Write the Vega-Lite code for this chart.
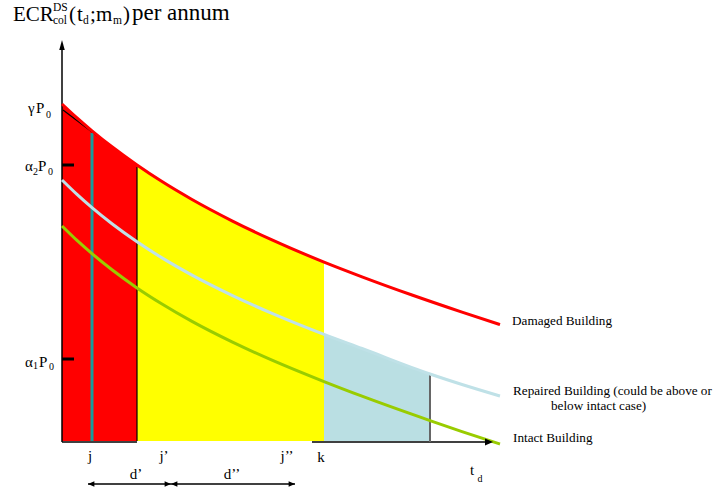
{
  "$schema": "https://vega.github.io/schema/vega-lite/v6.json",
  "width": 717,
  "height": 494,
  "autosize": {"type": "fit", "contains": "padding"},
  "padding": 0,
  "background": "white",
  "config": {"view": {"stroke": null}, "text": {"font": "Liberation Serif", "color": "black"}},
  "datasets": {
    "curves": [
      {"series": "damaged", "t": 0, "v": 337}, {"series": "damaged", "t": 15, "v": 323.1}, {"series": "damaged", "t": 30, "v": 310.2},
      {"series": "damaged", "t": 50, "v": 294.2}, {"series": "damaged", "t": 75, "v": 276}, {"series": "damaged", "t": 100, "v": 259.4},
      {"series": "damaged", "t": 130, "v": 241.5}, {"series": "damaged", "t": 170, "v": 220.2}, {"series": "damaged", "t": 210, "v": 201.1},
      {"series": "damaged", "t": 262, "v": 178.9}, {"series": "damaged", "t": 300, "v": 164.2}, {"series": "damaged", "t": 350, "v": 146},
      {"series": "damaged", "t": 400, "v": 128.9}, {"series": "damaged", "t": 438, "v": 116.4},
      {"series": "repaired", "t": 0, "v": 261}, {"series": "repaired", "t": 15, "v": 246.6}, {"series": "repaired", "t": 30, "v": 233.3},
      {"series": "repaired", "t": 50, "v": 217.2}, {"series": "repaired", "t": 75, "v": 199.2}, {"series": "repaired", "t": 100, "v": 183.1},
      {"series": "repaired", "t": 130, "v": 165.9}, {"series": "repaired", "t": 170, "v": 145.7}, {"series": "repaired", "t": 210, "v": 127.6},
      {"series": "repaired", "t": 262, "v": 106.6}, {"series": "repaired", "t": 300, "v": 92.5}, {"series": "repaired", "t": 368, "v": 67},
      {"series": "repaired", "t": 400, "v": 56.5}, {"series": "repaired", "t": 438, "v": 45},
      {"series": "intact", "t": 0, "v": 215}, {"series": "intact", "t": 15, "v": 200.6}, {"series": "intact", "t": 30, "v": 187.4},
      {"series": "intact", "t": 50, "v": 171.2}, {"series": "intact", "t": 75, "v": 153.1}, {"series": "intact", "t": 100, "v": 137},
      {"series": "intact", "t": 130, "v": 119.6}, {"series": "intact", "t": 170, "v": 99.1}, {"series": "intact", "t": 210, "v": 80.8},
      {"series": "intact", "t": 262, "v": 59.4}, {"series": "intact", "t": 300, "v": 44.8}, {"series": "intact", "t": 368, "v": 20.4},
      {"series": "intact", "t": 400, "v": 9.4}, {"series": "intact", "t": 438, "v": -3}
    ],
    "bands": [
      {"band": "j", "t": 0, "v": 337}, {"band": "j", "t": 15, "v": 323.1}, {"band": "j", "t": 30, "v": 310.2},
      {"band": "j", "t": 50, "v": 294.2}, {"band": "j", "t": 75, "v": 276},
      {"band": "d", "t": 75, "v": 276}, {"band": "d", "t": 100, "v": 259.4}, {"band": "d", "t": 130, "v": 241.5},
      {"band": "d", "t": 170, "v": 220.2}, {"band": "d", "t": 210, "v": 201.1}, {"band": "d", "t": 262, "v": 178},
      {"band": "k", "t": 262, "v": 106.6}, {"band": "k", "t": 300, "v": 92.5}, {"band": "k", "t": 368, "v": 67}
    ],
    "segments": [
      {"part": "axis", "t": 0, "v": -1, "t2": 0, "v2": 396},
      {"part": "axis", "t": 0, "v": -1, "t2": 75, "v2": -1},
      {"part": "axis", "t": 250, "v": -1, "t2": 428, "v2": -1},
      {"part": "axis", "t": 26, "v": -43, "t2": 109, "v2": -43},
      {"part": "axis", "t": 109, "v": -43, "t2": 233, "v2": -43},
      {"part": "edge", "t": 75, "v": 0, "t2": 75, "v2": 274},
      {"part": "edge", "t": 1, "v": 331, "t2": 44, "v2": 298.5},
      {"part": "tick", "t": 0, "v": 276, "t2": 12, "v2": 276},
      {"part": "tick", "t": 0, "v": 82, "t2": 12, "v2": 82},
      {"part": "marker", "t": 30, "v": 0, "t2": 30, "v2": 308},
      {"part": "limit", "t": 368, "v": -1, "t2": 368, "v2": 67}
    ],
    "heads": [
      {"kind": "axis", "dir": "up", "t": 0, "v": 396},
      {"kind": "axis", "dir": "right", "t": 427, "v": -1},
      {"kind": "span", "dir": "left", "t": 29.2, "v": -43},
      {"kind": "span", "dir": "right", "t": 105.8, "v": -43},
      {"kind": "span", "dir": "left", "t": 112.2, "v": -43},
      {"kind": "span", "dir": "right", "t": 229.8, "v": -43}
    ],
    "labels": [
      {"role": "title", "text": "ECR", "t": -49, "v": 420},
      {"role": "title", "text": "(", "t": 7, "v": 420},
      {"role": "title", "text": "t", "t": 15, "v": 420},
      {"role": "title", "text": ";", "t": 28, "v": 420},
      {"role": "title", "text": "m", "t": 34, "v": 420},
      {"role": "title", "text": ")", "t": 61, "v": 420},
      {"role": "unit", "text": "per annum", "t": 70, "v": 421},
      {"role": "titlesub", "text": "DS", "t": -9, "v": 430},
      {"role": "titlesub", "text": "col", "t": -9, "v": 417},
      {"role": "titlesub", "text": "d", "t": 21, "v": 417},
      {"role": "titlesub", "text": "m", "t": 51, "v": 417},
      {"role": "level", "text": "γ", "t": -34, "v": 328},
      {"role": "level", "text": "P", "t": -26, "v": 328},
      {"role": "level", "text": "α", "t": -37, "v": 270},
      {"role": "level", "text": "P", "t": -24, "v": 270},
      {"role": "level", "text": "α", "t": -37, "v": 74},
      {"role": "level", "text": "P", "t": -23, "v": 74},
      {"role": "levelsub", "text": "0", "t": -16, "v": 323},
      {"role": "levelsub", "text": "2", "t": -29, "v": 266},
      {"role": "levelsub", "text": "0", "t": -14, "v": 266},
      {"role": "levelsub", "text": "1", "t": -29, "v": 72},
      {"role": "levelsub", "text": "0", "t": -13, "v": 71},
      {"role": "time", "text": "j", "t": 28, "v": -20},
      {"role": "time", "text": "j’", "t": 102, "v": -20},
      {"role": "time", "text": "j’’", "t": 225, "v": -20},
      {"role": "time", "text": "k", "t": 259, "v": -21},
      {"role": "time", "text": "d’", "t": 74, "v": -38},
      {"role": "time", "text": "d’’", "t": 170, "v": -38},
      {"role": "time", "text": "t", "t": 410, "v": -34},
      {"role": "timesub", "text": "d", "t": 418, "v": -41},
      {"role": "note", "text": "Damaged Building", "t": 450, "v": 116},
      {"role": "note", "text": "Repaired Building (could be above or", "t": 451, "v": 46},
      {"role": "note", "text": "below intact case)", "t": 489, "v": 31},
      {"role": "note", "text": "Intact Building", "t": 451, "v": -1}
    ]
  },
  "encoding": {
    "x": {"field": "t", "type": "quantitative", "scale": {"domain": [-62, 655], "nice": false, "zero": false}, "axis": null},
    "y": {"field": "v", "type": "quantitative", "stack": null, "scale": {"domain": [-53, 441], "nice": false, "zero": false}, "axis": null}
  },
  "resolve": {"scale": {"color": "independent"}},
  "layer": [
    {
      "data": {"name": "bands"},
      "mark": {"type": "area", "interpolate": "monotone", "opacity": 1},
      "encoding": {
        "y2": {"datum": 0},
        "color": {"field": "band", "type": "nominal", "scale": {"domain": ["j", "d", "k"], "range": ["#ff0000", "#ffff00", "#badfe3"]}, "legend": null}
      }
    },
    {
      "data": {"name": "segments"},
      "transform": [{"filter": "datum.part === 'axis'"}],
      "mark": {"type": "rule", "color": "black", "strokeWidth": 1.5},
      "encoding": {"x2": {"field": "t2"}, "y2": {"field": "v2"}}
    },
    {
      "data": {"name": "segments"},
      "transform": [{"filter": "datum.part === 'edge'"}],
      "mark": {"type": "rule", "color": "black", "strokeWidth": 1.2},
      "encoding": {"x2": {"field": "t2"}, "y2": {"field": "v2"}}
    },
    {
      "data": {"name": "segments"},
      "transform": [{"filter": "datum.part === 'tick'"}],
      "mark": {"type": "rule", "color": "black", "strokeWidth": 3},
      "encoding": {"x2": {"field": "t2"}, "y2": {"field": "v2"}}
    },
    {
      "data": {"name": "segments"},
      "transform": [{"filter": "datum.part === 'marker'"}],
      "mark": {"type": "rule", "color": "#169c9c", "strokeWidth": 3},
      "encoding": {"x2": {"field": "t2"}, "y2": {"field": "v2"}}
    },
    {
      "data": {"name": "segments"},
      "transform": [{"filter": "datum.part === 'limit'"}],
      "mark": {"type": "rule", "color": "#666666", "strokeWidth": 2},
      "encoding": {"x2": {"field": "t2"}, "y2": {"field": "v2"}}
    },
    {
      "data": {"name": "curves"},
      "mark": {"type": "line", "interpolate": "monotone", "strokeWidth": 3, "strokeCap": "butt"},
      "encoding": {
        "color": {"field": "series", "type": "nominal", "scale": {"domain": ["damaged", "repaired", "intact"], "range": ["#ff0000", "#bfe1e7", "#99cc00"]}, "legend": null}
      }
    },
    {
      "data": {"name": "heads"},
      "transform": [{"filter": "datum.kind === 'axis'"}],
      "mark": {"type": "point", "filled": true, "color": "black", "opacity": 1, "size": 100, "strokeWidth": 0},
      "encoding": {
        "shape": {"field": "dir", "type": "nominal", "scale": {"domain": ["up", "right", "left"], "range": ["M0,-1L0.55,1L-0.55,1Z", "M0.8,0L-0.8,-0.7L-0.8,0.7Z", "M-0.8,0L0.8,-0.7L0.8,0.7Z"]}, "legend": null}
      }
    },
    {
      "data": {"name": "heads"},
      "transform": [{"filter": "datum.kind === 'span'"}],
      "mark": {"type": "point", "filled": true, "color": "black", "opacity": 1, "size": 64, "strokeWidth": 0},
      "encoding": {
        "shape": {"field": "dir", "type": "nominal", "legend": null}
      }
    },
    {
      "data": {"name": "labels"},
      "transform": [{"filter": "datum.role === 'title'"}],
      "mark": {"type": "text", "font": "Liberation Serif", "fontSize": 21, "align": "left", "baseline": "alphabetic"},
      "encoding": {"text": {"field": "text"}}
    },
    {
      "data": {"name": "labels"},
      "transform": [{"filter": "datum.role === 'unit'"}],
      "mark": {"type": "text", "font": "Liberation Serif", "fontSize": 23, "align": "left", "baseline": "alphabetic"},
      "encoding": {"text": {"field": "text"}}
    },
    {
      "data": {"name": "labels"},
      "transform": [{"filter": "datum.role === 'titlesub'"}],
      "mark": {"type": "text", "font": "Liberation Serif", "fontSize": 11.5, "align": "left", "baseline": "alphabetic"},
      "encoding": {"text": {"field": "text"}}
    },
    {
      "data": {"name": "labels"},
      "transform": [{"filter": "datum.role === 'level'"}],
      "mark": {"type": "text", "font": "Liberation Serif", "fontSize": 15, "align": "left", "baseline": "alphabetic"},
      "encoding": {"text": {"field": "text"}}
    },
    {
      "data": {"name": "labels"},
      "transform": [{"filter": "datum.role === 'levelsub'"}],
      "mark": {"type": "text", "font": "Liberation Serif", "fontSize": 10, "align": "left", "baseline": "alphabetic"},
      "encoding": {"text": {"field": "text"}}
    },
    {
      "data": {"name": "labels"},
      "transform": [{"filter": "datum.role === 'time'"}],
      "mark": {"type": "text", "font": "Liberation Serif", "fontSize": 15, "align": "center", "baseline": "alphabetic"},
      "encoding": {"text": {"field": "text"}}
    },
    {
      "data": {"name": "labels"},
      "transform": [{"filter": "datum.role === 'timesub'"}],
      "mark": {"type": "text", "font": "Liberation Serif", "fontSize": 10, "align": "center", "baseline": "alphabetic"},
      "encoding": {"text": {"field": "text"}}
    },
    {
      "data": {"name": "labels"},
      "transform": [{"filter": "datum.role === 'note'"}],
      "mark": {"type": "text", "font": "Liberation Serif", "fontSize": 13.2, "align": "left", "baseline": "alphabetic"},
      "encoding": {"text": {"field": "text"}}
    }
  ]
}
